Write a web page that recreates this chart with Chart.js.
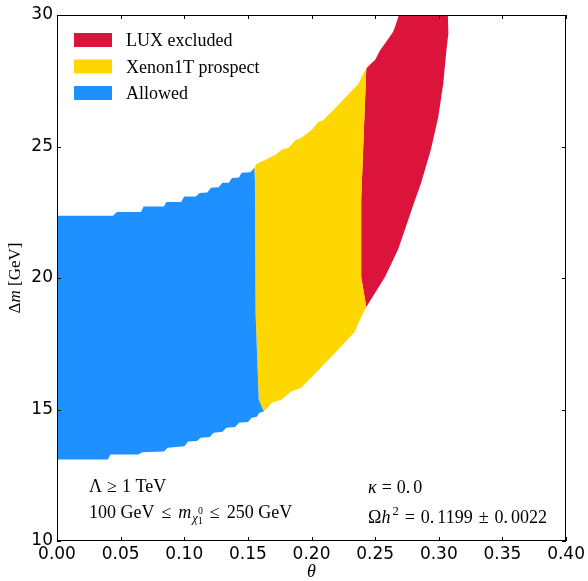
<!DOCTYPE html>
<html>
<head>
<meta charset="utf-8">
<script src="https://cdn.jsdelivr.net/npm/chart.js@4.4.1/dist/chart.umd.min.js"></script>
<style>
  html, body { margin: 0; padding: 0; background: #fff; }
</style>
</head>
<body>
<canvas id="regionChart" width="588" height="581"></canvas>
<script>
// tick values
const thetaTicks = [0, 0.05, 0.10, 0.15, 0.20, 0.25, 0.30, 0.35, 0.40];
const dmTicks = [10, 15, 20, 25, 30];

// region names (legend order)
const regionNames = ['LUX excluded', 'Xenon1T prospect', 'Allowed'];
const regionColors = ['#DC143C', '#FFD700', '#1E90FF'];

// region outlines (theta, delta m)
const allowedTheta = [0, 0, 0.044, 0.047, 0.066, 0.068, 0.084, 0.086, 0.0975, 0.100, 0.109, 0.112, 0.118, 0.121, 0.127, 0.130, 0.135, 0.1375, 0.143, 0.145, 0.152, 0.155,
  0.1555, 0.156, 0.1585, 0.1625,
  0.159, 0.157, 0.153, 0.150, 0.143, 0.140, 0.133, 0.130, 0.123, 0.120, 0.113, 0.110, 0.103, 0.100, 0.087, 0.084, 0.067, 0.064, 0.042, 0.040];
const allowedDm = [13.1, 22.37, 22.37, 22.51, 22.51, 22.72, 22.72, 22.89, 22.89, 23.1, 23.1, 23.23, 23.25, 23.43, 23.45, 23.62, 23.62, 23.8, 23.82, 24.0, 24.02, 24.19,
  23.73, 18.68, 15.38, 14.92,
  14.88, 14.72, 14.69, 14.52, 14.5, 14.33, 14.31, 14.15, 14.12, 13.95, 13.93, 13.8, 13.78, 13.6, 13.55, 13.4, 13.37, 13.29, 13.29, 13.1];

const xenonTheta = [0.155, 0.157, 0.164, 0.172, 0.177, 0.182, 0.1875, 0.192, 0.200, 0.2055, 0.209, 0.221, 0.237, 0.242, 0.243,
  0.239, 0.239, 0.243,
  0.237, 0.234, 0.221, 0.211, 0.192, 0.184, 0.1766, 0.169, 0.1625,
  0.1585, 0.156, 0.1555];
const xenonDm = [24.19, 24.34, 24.5, 24.7, 24.9, 24.95, 25.25, 25.33, 25.63, 25.94, 26.0, 26.58, 27.4, 27.9, 27.95,
  22.97, 20.05, 18.9,
  18.3, 17.96, 17.28, 16.78, 15.83, 15.68, 15.38, 15.26, 14.92,
  15.38, 18.68, 23.73];

const luxTheta = [0.243, 0.239, 0.239, 0.243, 0.2437, 0.250, 0.254, 0.258, 0.264, 0.2656, 0.270, 0.290, 0.307,
  0.3075, 0.306, 0.3035, 0.2995, 0.2937, 0.286, 0.2813, 0.268, 0.2578, 0.250];
const luxDm = [18.9, 20.05, 22.97, 27.95, 28.0, 28.3, 28.67, 28.94, 29.35, 29.54, 30.2, 30.2, 30.2,
  29.3, 28.67, 27.4, 26.1, 24.87, 23.6, 22.97, 21.08, 20.05, 19.44];

function toPoints(xs, ys) {
  return xs.map((x, i) => ({ x: x, y: ys[i] }));
}

const SERIF = '"Liberation Serif", "Times New Roman", serif';
const SANS = '"DejaVu Sans", sans-serif';

// draw a sequence of text pieces with mixed italic / sub / sup
function drawRuns(ctx, x, y, runs, size) {
  let cx = x;
  runs.forEach(r => {
    const s = size * (r.scale || 1);
    ctx.font = (r.it ? 'italic ' : '') + s + 'px ' + SERIF;
    ctx.fillText(r.t, cx, y + (r.dy || 0));
    if (!r.noAdvance) cx += ctx.measureText(r.t).width + (r.gap || 0);
  });
}

const decorPlugin = {
  id: 'decor',
  afterDraw(chart) {
    const ctx = chart.ctx;
    const a = chart.chartArea;
    const xs = chart.scales.x, ys = chart.scales.y;
    ctx.save();
    ctx.strokeStyle = '#000';
    ctx.lineWidth = 1;
    ctx.strokeRect(Math.round(a.left) + 0.5, Math.round(a.top) + 0.5, Math.round(a.right - a.left) - 1, Math.round(a.bottom - a.top) - 1);

    // inward tick marks on all four sides
    ctx.beginPath();
    thetaTicks.forEach(v => {
      const px = Math.round(xs.getPixelForValue(v)) + 0.5;
      ctx.moveTo(px, a.bottom); ctx.lineTo(px, a.bottom - 4);
      ctx.moveTo(px, a.top); ctx.lineTo(px, a.top + 4);
    });
    dmTicks.forEach(v => {
      const py = Math.round(ys.getPixelForValue(v)) + 0.5;
      ctx.moveTo(a.left, py); ctx.lineTo(a.left + 4, py);
      ctx.moveTo(a.right, py); ctx.lineTo(a.right - 4, py);
    });
    ctx.stroke();

    // legend in the upper left
    ctx.textBaseline = 'alphabetic';
    ctx.textAlign = 'left';
    const rowY = [40, 66.5, 93];
    regionNames.forEach((name, i) => {
      ctx.fillStyle = regionColors[i];
      ctx.fillRect(74, rowY[i] - 7, 38, 14);
      ctx.fillStyle = '#000';
      ctx.font = '18px ' + SERIF;
      ctx.fillText(name, 126, rowY[i] + 6);
    });

    // annotations
    ctx.fillStyle = '#000';
    drawRuns(ctx, 89, 492, [
      { t: 'Λ', gap: 5 }, { t: '≥', gap: 5 }, { t: '1 TeV' }
    ], 18);
    drawRuns(ctx, 89, 518, [
      { t: '100 GeV', gap: 7 }, { t: '≤', gap: 7 }, { t: 'm', it: true, gap: 1 },
      { t: 'χ', it: true, scale: 0.7, dy: 4 },
      { t: '1', scale: 0.55, dy: 6, noAdvance: true },
      { t: '0', scale: 0.55, dy: -4, gap: 7 },
      { t: '≤', gap: 7 }, { t: '250 GeV' }
    ], 18);
    drawRuns(ctx, 368, 493, [
      { t: 'κ', it: true, gap: 5 }, { t: '=', gap: 5 }, { t: '0.', gap: 3 }, { t: '0' }
    ], 18);
    drawRuns(ctx, 368, 523, [
      { t: 'Ω' }, { t: 'h', it: true, gap: 2 }, { t: '2', scale: 0.7, dy: -8, gap: 6 },
      { t: '=', gap: 6 }, { t: '0.', gap: 3 }, { t: '1199', gap: 6 }, { t: '±', gap: 6 },
      { t: '0.', gap: 3 }, { t: '0022' }
    ], 18);

    // axis titles
    ctx.font = 'italic 18px ' + SERIF;
    ctx.textAlign = 'center';
    ctx.fillText('θ', (a.left + a.right) / 2, 577);

    ctx.translate(20, (a.top + a.bottom) / 2);
    ctx.rotate(-Math.PI / 2);
    ctx.textAlign = 'left';
    ctx.font = '17px ' + SERIF;
    const p1 = 'Δ', p3 = ' [GeV]';
    const w1 = ctx.measureText(p1).width, w3 = ctx.measureText(p3).width;
    ctx.font = 'italic 17px ' + SERIF;
    const w2 = ctx.measureText('m').width;
    let sx = -(w1 + w2 + w3) / 2;
    ctx.font = '17px ' + SERIF;
    ctx.fillText(p1, sx, 0);
    ctx.font = 'italic 17px ' + SERIF;
    ctx.fillText('m', sx + w1, 0);
    ctx.font = '17px ' + SERIF;
    ctx.fillText(p3, sx + w1 + w2, 0);
    ctx.restore();
  }
};

const ctx = document.getElementById('regionChart').getContext('2d');
const regionChart = new Chart(ctx, {
  type: 'scatter',
  data: {
    datasets: [
      {
        label: regionNames[2],
        data: toPoints(allowedTheta, allowedDm),
        showLine: true,
        fill: 'shape',
        backgroundColor: regionColors[2],
        borderColor: 'rgba(0,0,0,0)',
        borderWidth: 0,
        pointRadius: 0,
        tension: 0
      },
      {
        label: regionNames[1],
        data: toPoints(xenonTheta, xenonDm),
        showLine: true,
        fill: 'shape',
        backgroundColor: regionColors[1],
        borderColor: 'rgba(0,0,0,0)',
        borderWidth: 0,
        pointRadius: 0,
        tension: 0
      },
      {
        label: regionNames[0],
        data: toPoints(luxTheta, luxDm),
        showLine: true,
        fill: 'shape',
        backgroundColor: regionColors[0],
        borderColor: 'rgba(0,0,0,0)',
        borderWidth: 0,
        pointRadius: 0,
        tension: 0
      }
    ]
  },
  options: {
    responsive: false,
    animation: false,
    layout: { padding: { top: 15, right: 19, left: 0, bottom: 0 } },
    scales: {
      x: {
        type: 'linear',
        min: 0,
        max: 0.4,
        grid: { display: false, drawTicks: false },
        border: { display: false },
        afterBuildTicks: s => { s.ticks = thetaTicks.map(v => ({ value: v })); },
        afterFit: s => { s.height = 40; },
        ticks: {
          color: '#000',
          font: { family: SANS, size: 17 },
          padding: 3,
          maxRotation: 0,
          autoSkip: false,
          callback: v => v.toFixed(2)
        }
      },
      y: {
        type: 'linear',
        min: 10,
        max: 30,
        grid: { display: false, drawTicks: false },
        border: { display: false },
        afterBuildTicks: s => { s.ticks = dmTicks.map(v => ({ value: v })); },
        afterFit: s => { s.width = 57; },
        ticks: {
          color: '#000',
          font: { family: SANS, size: 17 },
          padding: 4,
          callback: v => String(v)
        }
      }
    },
    plugins: {
      legend: { display: false },
      tooltip: { enabled: false }
    }
  },
  plugins: [decorPlugin]
});
</script>
</body>
</html>
